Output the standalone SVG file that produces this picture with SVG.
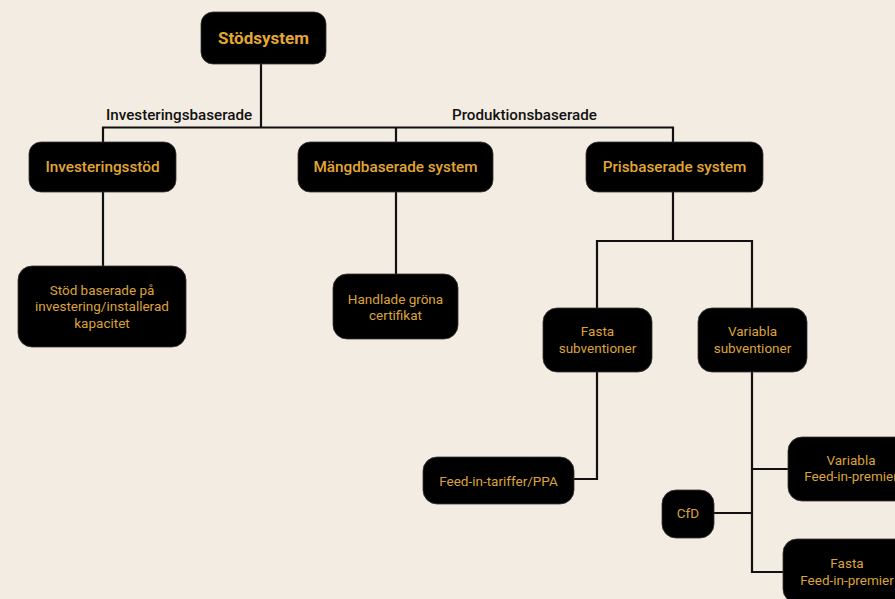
<svg xmlns="http://www.w3.org/2000/svg" width="895" height="599" viewBox="0 0 895 599">
<style>
.bg{fill:#f2ece2}
.box{fill:#000;stroke:#3a3630;stroke-width:0.8}
.t1{font-family:Roboto,"Liberation Sans",sans-serif;font-size:17px;font-weight:700;fill:#e3a733;text-anchor:middle}
.t2{font-family:Roboto,"Liberation Sans",sans-serif;font-size:15.3px;font-weight:500;fill:#e3a733;text-anchor:middle}
.t3{font-family:Roboto,"Liberation Sans",sans-serif;font-size:13.5px;fill:#dca33a;text-anchor:middle}
.lab{font-family:Roboto,"Liberation Sans",sans-serif;font-size:15.2px;font-weight:500;fill:#111}
.ln{fill:none;stroke:#111;stroke-width:2.2}
</style>
<rect class="bg" x="0" y="0" width="895" height="599"/>
<g id="connectors">
<path class="ln" d="M261 64V127.5M103 192V127.5H673V142M396 127.5V142"/>
<path class="ln" d="M103 192V266M396 192V274"/>
<path class="ln" d="M673 192V241M597 308V241H752V308"/>
<path class="ln" d="M597 372V479H574"/>
<path class="ln" d="M752 372V572H783M752 469H788M752 513H714"/>
</g>
<g id="labels">
<text class="lab" x="106" y="120">Investeringsbaserade</text>
<text class="lab" x="452" y="120">Produktionsbaserade</text>
</g>
<g id="stodsystem"><rect class="box" x="201" y="12" width="125" height="52" rx="12"/><text class="t1" x="263.5" y="44">Stödsystem</text></g>
<g id="investeringsstod"><rect class="box" x="29" y="142" width="147" height="50" rx="12"/><text class="t2" x="102.5" y="172">Investeringsstöd</text></g>
<g id="mangdbaserade"><rect class="box" x="298" y="142" width="195" height="50" rx="12"/><text class="t2" x="395.5" y="172">Mängdbaserade system</text></g>
<g id="prisbaserade"><rect class="box" x="586" y="142" width="177" height="50" rx="12"/><text class="t2" x="674.5" y="172">Prisbaserade system</text></g>
<g id="stod-baserade"><rect class="box" x="18" y="266" width="168" height="81" rx="14"/><text class="t3" x="102" y="294.5">Stöd baserade på</text><text class="t3" x="102" y="311">investering/installerad</text><text class="t3" x="102" y="327.5">kapacitet</text></g>
<g id="handlade"><rect class="box" x="333" y="274" width="125" height="65" rx="14"/><text class="t3" x="395.5" y="303.5">Handlade gröna</text><text class="t3" x="395.5" y="320">certifikat</text></g>
<g id="fasta-sub"><rect class="box" x="543" y="308" width="109" height="64" rx="14"/><text class="t3" x="597.5" y="335.5">Fasta</text><text class="t3" x="597.5" y="352.5">subventioner</text></g>
<g id="variabla-sub"><rect class="box" x="698" y="308" width="109" height="64" rx="14"/><text class="t3" x="752.5" y="335.5">Variabla</text><text class="t3" x="752.5" y="352.5">subventioner</text></g>
<g id="feed-in-tariff"><rect class="box" x="423" y="457" width="151" height="47" rx="14"/><text class="t3" x="498.5" y="485.5">Feed-in-tariffer/PPA</text></g>
<g id="cfd"><rect class="box" x="662" y="490" width="52" height="48" rx="14"/><text class="t3" x="688" y="518">CfD</text></g>
<g id="variabla-fip"><rect class="box" x="788" y="437" width="126" height="64" rx="14"/><text class="t3" x="851" y="464.5">Variabla</text><text class="t3" x="851" y="481">Feed-in-premier</text></g>
<g id="fasta-fip"><rect class="box" x="783" y="539" width="128" height="64" rx="14"/><text class="t3" x="847" y="567.5">Fasta</text><text class="t3" x="847" y="584.5">Feed-in-premier</text></g>
</svg>
